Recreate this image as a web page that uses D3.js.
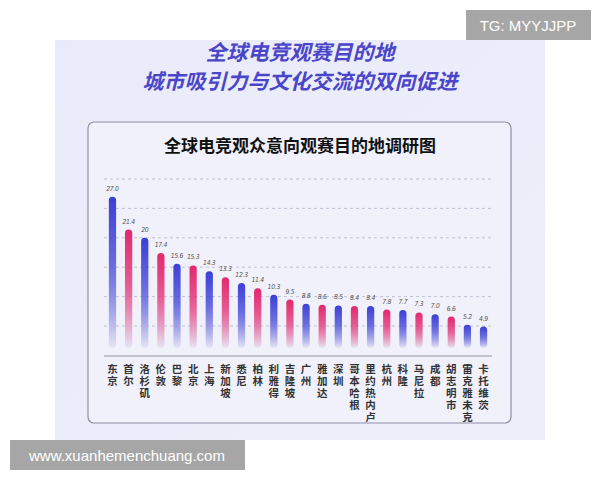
<!DOCTYPE html>
<html><head><meta charset="utf-8">
<script src="https://cdn.jsdelivr.net/npm/d3@7"></script>
<style>body{margin:0;background:#fff}svg{display:block}</style>
</head><body>
<svg id="c" width="600" height="480"></svg>
<script>
const cities = ["东京","首尔","洛杉矶","伦敦","巴黎","北京","上海","新加坡","悉尼","柏林","利雅得","吉隆坡","广州","雅加达","深圳","哥本哈根","里约热内卢","杭州","科隆","马尼拉","成都","胡志明市","雷克雅未克","卡托维茨"];
const values = [27.0,21.4,20,17.4,15.6,15.3,14.3,13.3,12.3,11.4,10.3,9.5,8.8,8.6,8.5,8.4,8.4,7.8,7.7,7.3,7.0,6.6,5.2,4.9];
const valueLabels = ["27.0","21.4","20","17.4","15.6","15.3","14.3","13.3","12.3","11.4","10.3","9.5","8.8","8.6","8.5","8.4","8.4","7.8","7.7","7.3","7.0","6.6","5.2","4.9"];
const colorKeys = ["b","p","b","p","b","p","b","p","b","p","b","p","b","p","b","p","b","p","b","p","b","p","b","b"];
const gridValues = [5,10,15,20,25,30];

const svg = d3.select("#c");
const defs = svg.append("defs");
const bg = defs.append("linearGradient").attr("id","bgG").attr("x1",0).attr("y1",0).attr("x2",1).attr("y2",1);
bg.append("stop").attr("offset",0).attr("stop-color","#e9ebfa");
bg.append("stop").attr("offset",1).attr("stop-color","#eeeffa");
[["b","#3c3fd6"],["p","#e2286f"]].forEach(([k,c])=>{
  const g=defs.append("linearGradient").attr("id","g"+k).attr("x1",0).attr("y1",0).attr("x2",0).attr("y2",1);
  g.append("stop").attr("offset",0).attr("stop-color",c);
  g.append("stop").attr("offset",0.45).attr("stop-color",c).attr("stop-opacity",0.75);
  g.append("stop").attr("offset",1).attr("stop-color","#e6e6f4");
});

svg.append("rect").attr("x",55).attr("y",40).attr("width",490).attr("height",400).attr("fill","url(#bgG)");
svg.append("text").attr("x",300).attr("y",60).attr("text-anchor","middle").attr("font-family","Noto Sans CJK SC").attr("font-weight",700).attr("font-size",21).attr("fill","#4b46c9").attr("font-style","italic").text("全球电竞观赛目的地");
svg.append("text").attr("x",300).attr("y",89).attr("text-anchor","middle").attr("font-family","Noto Sans CJK SC").attr("font-weight",700).attr("font-size",21).attr("fill","#4b46c9").attr("font-style","italic").text("城市吸引力与文化交流的双向促进");

svg.append("rect").attr("x",88).attr("y",122).attr("width",423).attr("height",301).attr("rx",6).attr("fill","#f1f1fb").attr("stroke","#8e8ea6").attr("stroke-width",1.2);
svg.append("text").attr("x",300).attr("y",152).attr("text-anchor","middle").attr("font-family","Noto Sans CJK SC").attr("font-weight",700).attr("font-size",17).attr("fill","#111").text("全球电竞观众意向观赛目的地调研图");

const x = d3.scaleBand().domain(cities).range([104,492]).paddingInner(0.55).paddingOuter(0.3);
const y = d3.scaleLinear().domain([0,30]).range([355.4,179]);
const bottom = 348;

svg.append("g").selectAll("line").data(gridValues).join("line")
  .attr("x1",104).attr("x2",492).attr("y1",d=>y(d)).attr("y2",d=>y(d))
  .attr("stroke","#b4b4c8").attr("stroke-dasharray","3,3").attr("stroke-width",0.8);
svg.append("line").attr("x1",104).attr("x2",492).attr("y1",356).attr("y2",356).attr("stroke","#b0b0c0").attr("stroke-width",1.5);

const bw = x.bandwidth();
svg.append("g").selectAll("rect").data(cities).join("rect")
  .attr("x",d=>x(d)).attr("width",bw)
  .attr("y",(d,i)=>y(values[i])).attr("height",(d,i)=>bottom-y(values[i]))
  .attr("rx",bw/2).attr("fill",(d,i)=>"url(#g"+colorKeys[i]+")");

svg.append("g").selectAll("text").data(cities).join("text")
  .attr("x",d=>x(d)+bw/2).attr("y",(d,i)=>y(values[i])-6)
  .attr("text-anchor","middle").attr("font-family","DejaVu Sans Condensed").attr("font-style","italic").attr("font-size",6.8).attr("letter-spacing",-0.3).attr("fill","#555")
  .text((d,i)=>valueLabels[i]);

svg.append("g").selectAll("text").data(cities).join("text")
  .attr("x",d=>x(d)+bw/2).attr("y",364)
  .attr("writing-mode","vertical-rl").attr("style","writing-mode:vertical-rl;text-orientation:upright")
  .attr("letter-spacing",1.5)
  .attr("font-family","Noto Sans CJK SC").attr("font-weight",700).attr("font-size",10.5).attr("fill","#333").text(d=>d);

svg.append("rect").attr("x",466).attr("y",10).attr("width",125).attr("height",30).attr("fill","#a6a6a6");
svg.append("text").attr("x",528).attr("y",31).attr("text-anchor","middle").attr("font-family","Liberation Sans").attr("font-size",15).attr("fill","#fff").text("TG: MYYJJPP");
svg.append("rect").attr("x",10).attr("y",440).attr("width",235).attr("height",30).attr("fill","#a6a6a6");
svg.append("text").attr("x",127).attr("y",461).attr("text-anchor","middle").attr("font-family","Liberation Sans").attr("font-size",15).attr("fill","#fff").text("www.xuanhemenchuang.com");
</script>
</body></html>
